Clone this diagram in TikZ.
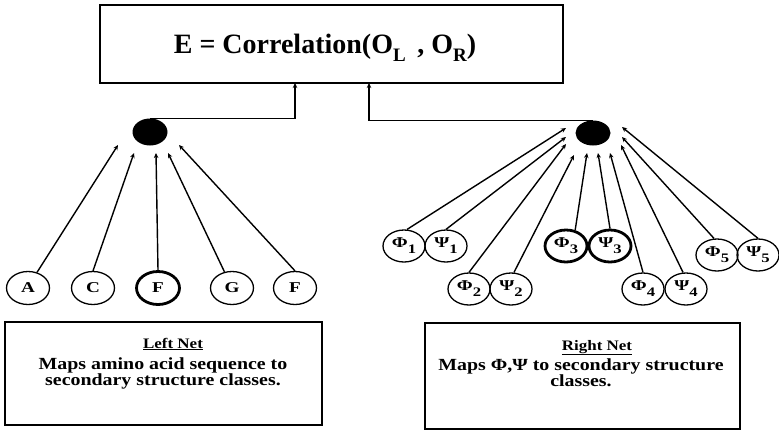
\documentclass[tikz,border=0pt]{standalone}
\usepackage{fontspec}
\setmainfont{Liberation Serif}
\newfontfamily\wideA{Liberation Serif}[FakeStretch=1.17]
\newfontfamily\wideB{Liberation Serif}[FakeStretch=1.28]
\usetikzlibrary{arrows.meta,shapes.geometric}
\newcommand{\sbs}[1]{\raisebox{-6pt}{\fontsize{13}{13}\selectfont #1}}
\begin{document}
\begin{tikzpicture}[x=1pt,y=-1pt,
  every node/.style={font=\bfseries},
  arr/.style={line width=1.4pt,-{Stealth[length=5pt,width=4.5pt]}},
  inp/.style={ellipse,draw,line width=1.3pt,minimum width=43pt,minimum height=33pt,inner sep=0pt,font=\wideB\bfseries\fontsize{15}{15}\selectfont},
  pair/.style={inp,minimum width=42pt,minimum height=32pt},
  heavy/.style={line width=2.8pt},
  dotnode/.style={ellipse,fill=black,minimum width=35pt,minimum height=26pt,inner sep=0pt},
  netbox/.style={draw,line width=1.4pt,rectangle,inner sep=0pt},
  body/.style={anchor=north,align=center,inner sep=0pt,font=\wideA\bfseries\fontsize{17}{16.5}\selectfont},
  head/.style={anchor=base,inner sep=0pt,font=\wideA\bfseries\fontsize{14.5}{14.5}\selectfont}]
\useasboundingbox (0,0) rectangle (779,431);

% top box
\node[netbox,minimum width=463pt,minimum height=78pt] (top) at (331.5,44) {};
\node[anchor=base,font=\bfseries\fontsize{28}{28}\selectfont] (title) at (325,53)
  {E = Correlation(O\raisebox{-8pt}{\fontsize{19}{19}\selectfont L}\ \,, O\raisebox{-8pt}{\fontsize{19}{19}\selectfont R})};

% output dots
\node[dotnode,minimum height=27pt] (dotL) at (150,132) {};
\node[dotnode,minimum height=25pt] (dotR) at (593,133) {};

\coordinate (inL) at (295,83);
\coordinate (inR) at (369,83);
\draw[arr] (dotL.north) -| (inL);
\draw[arr] (dotR.north) -| (inR);

% left inputs
\node[inp] (a)  at (28,288)  {A};
\node[inp] (c)  at (93,288)  {C};
\node[inp,heavy] (f1) at (158,288) {F};
\node[inp] (g)  at (232,288) {G};
\node[inp] (f2) at (295,288) {F};

\coordinate (tA)  at (118,145);
\coordinate (tC)  at (134,153);
\coordinate (tF1) at (156,153);
\coordinate (tG)  at (168,153);
\coordinate (tF2) at (179,145);
\draw[arr] (a.60) -- (tA);
\draw[arr] (c.north) -- (tC);
\draw[arr] (f1.north) -- (tF1);
\draw[arr] (g.115) -- (tG);
\draw[arr] (f2.north) -- (tF2);

% right inputs
\node[pair] (p1) at (404,246) {Φ\sbs{1}};
\node[pair] (s1) at (446,246) {Ψ\sbs{1}};
\node[pair] (p2) at (469,289) {Φ\sbs{2}};
\node[pair] (s2) at (511,289) {Ψ\sbs{2}};
\node[pair,heavy] (p3) at (566,246) {Φ\sbs{3}};
\node[pair,heavy] (s3) at (610,246) {Ψ\sbs{3}};
\node[pair] (p4) at (643,289) {Φ\sbs{4}};
\node[pair] (s4) at (686,289) {Ψ\sbs{4}};
\node[pair] (p5) at (717,255) {Φ\sbs{5}};
\node[pair] (s5) at (758,255) {Ψ\sbs{5}};

\coordinate (tp1) at (566,128);
\coordinate (ts1) at (566,137);
\coordinate (tp2) at (566,144);
\coordinate (ts2) at (574,155);
\coordinate (tp3) at (587,153);
\coordinate (ts3) at (598,153);
\coordinate (tp4) at (610,153);
\coordinate (ts4) at (621,145);
\coordinate (tp5) at (622,137);
\coordinate (ts5) at (622,127);
\draw[arr] (p1.80) -- (tp1);
\draw[arr] (s1.north) -- (ts1);
\draw[arr] (p2.north) -- (tp2);
\draw[arr] (s2.80) -- (ts2);
\draw[arr] (p3.60) -- (tp3);
\draw[arr] (s3.north) -- (ts3);
\draw[arr] (p4.north) -- (tp4);
\draw[arr] (s4.100) -- (ts4);
\draw[arr] (p5.100) -- (tp5);
\draw[arr] (s5.north) -- (ts5);

% bottom boxes
\node[netbox,minimum width=317pt,minimum height=103pt] (lbox) at (163.5,373.5) {};
\node[head] (lhead) at (173,348) {\underline{Left Net}};
\node[body] (ltext) at (163,357) {Maps amino acid sequence to\\secondary structure classes.};

\node[netbox,minimum width=315pt,minimum height=106pt] (rbox) at (582.5,376) {};
\node[head] (rhead) at (597,350) {\underline{Right Net}};
\node[body] (rtext) at (581,358) {Maps Φ,Ψ to secondary structure\\classes.};
\end{tikzpicture}
\end{document}
